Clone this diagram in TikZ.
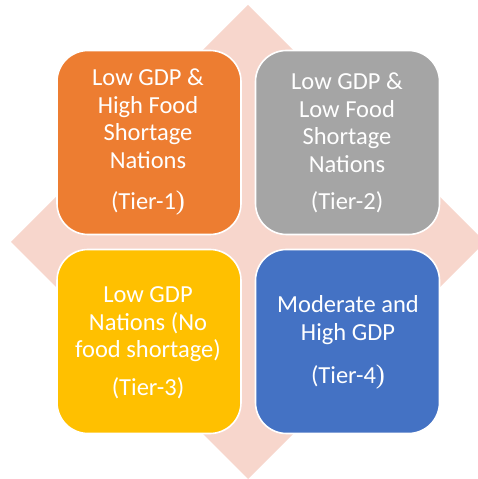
\documentclass[tikz,border=0pt]{standalone}
\usepackage{fontspec}
\setmainfont{Carlito}
\newfontfamily\parenfont{Liberation Serif}
\definecolor{diamondpink}{RGB}{247,214,204}
\definecolor{tierorange}{RGB}{237,125,49}
\definecolor{tiergray}{RGB}{165,165,165}
\definecolor{tieryellow}{RGB}{255,192,0}
\definecolor{tierblue}{RGB}{68,114,196}
\newcommand{\bigparen}{{\parenfont\fontsize{27}{27}\selectfont)}}
\tikzset{
  tierbox/.style={rectangle, rounded corners=31pt, draw=white, line width=1.6pt,
    minimum width=184pt, minimum height=184pt, inner sep=0pt},
  tiertext/.style={text=white, anchor=base, inner sep=0pt,
    font=\fontsize{24.5}{27.5}\selectfont}
}
\begin{document}
\begin{tikzpicture}[x=1pt,y=1pt]
\useasboundingbox (0,0) rectangle (478,479);
\clip (0,0) rectangle (478,479);
\fill[diamondpink] (248,474) -- (485,237) -- (248,0) -- (11,237) -- cycle;
\node[tierbox, fill=tierorange] (b1) at (149,336.5) {};
\node[tierbox, fill=tiergray] (b2) at (347.5,336.5) {};
\node[tierbox, fill=tieryellow] (b3) at (149,137.5) {};
\node[tierbox, fill=tierblue] (b4) at (347.5,137.5) {};
% Tier-1
\node[tiertext] (t1a) at (148,393) {Low GDP \&};
\node[tiertext] (t1b) at (148,365.5) {High Food};
\node[tiertext] (t1c) at (148,338) {Shortage};
\node[tiertext] (t1d) at (148,310.5) {Nations};
\node[tiertext] (t1e) at (148,269) {(Tier-1\bigparen};
% Tier-2
\node[tiertext] (t2a) at (347,389) {Low GDP \&};
\node[tiertext] (t2b) at (347,361.5) {Low Food};
\node[tiertext] (t2c) at (347,334) {Shortage};
\node[tiertext] (t2d) at (347,306.5) {Nations};
\node[tiertext] (t2e) at (347,269) {(Tier-2)};
% Tier-3
\node[tiertext] (t3a) at (148,176) {Low GDP};
\node[tiertext] (t3b) at (148,148.5) {Nations (No};
\node[tiertext] (t3c) at (148,121) {food shortage)};
\node[tiertext] (t3d) at (148,83) {(Tier-3)};
% Tier-4
\node[tiertext] (t4a) at (348,166) {Moderate and};
\node[tiertext] (t4b) at (348,138.5) {High GDP};
\node[tiertext] (t4c) at (348,95) {(Tier-4\bigparen};
\end{tikzpicture}
\end{document}
